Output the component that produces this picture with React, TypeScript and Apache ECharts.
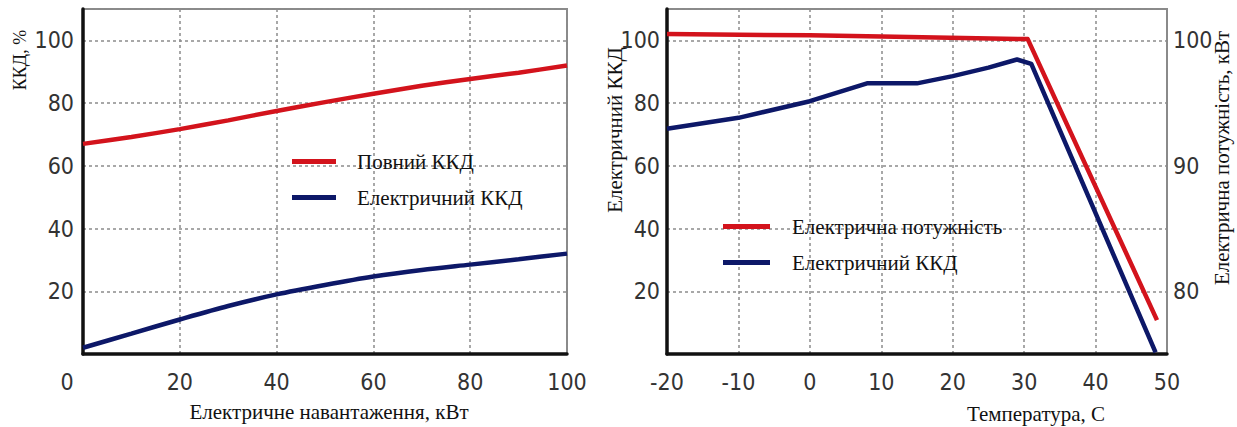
import React, { useEffect, useRef } from "react";
import * as echarts from "echarts";

// Left chart: efficiency vs electrical load
const loadX = [0, 10, 20, 30, 40, 50, 60, 70, 80, 90, 100];
const totalEff = [67, 69.2, 71.7, 74.5, 77.5, 80.3, 83, 85.5, 87.7, 89.7, 92];
const elecEffLoad = [2, 6.5, 11, 15.3, 19, 22, 24.7, 26.8, 28.5, 30.2, 32];

// Right chart: vs temperature
const powerT = [-20, 0, 10, 30.5, 48.6];
const powerKW = [100.5, 100.4, 100.3, 100.1, 77.7];
const effT = [-20, -10, 0, 8, 15, 20, 25, 29, 31, 48.4];
const effTemp = [71.8, 75.3, 80.6, 86.3, 86.3, 88.6, 91.3, 93.9, 92.5, 0.5];

const leftYTicks = [20, 40, 60, 80, 100];
const rightYTicks = [80, 90, 100];

const RED = "#d3131c";
const BLUE = "#0d1868";
const TICK_FONT = "'Liberation Sans Narrow', 'DejaVu Sans Condensed', 'Roboto', sans-serif";
const SERIF = "'Liberation Serif', 'DejaVu Serif', serif";

export default function App() {
  const ref = useRef<HTMLDivElement>(null);
  useEffect(() => {
    document.body.style.margin = "0";
    if (!ref.current) return;
    const chart = echarts.init(ref.current, null, { renderer: "svg" });
    const tickLabel = {
      fontFamily: TICK_FONT,
      fontSize: 23,
      fontWeight: 500,
      color: "#333333",
    };
    const split = {
      show: true,
      lineStyle: { color: "#8c8c8c", width: 1.5, type: [3, 3] as any },
    };
    const blackAxis = { show: true, onZero: false, lineStyle: { color: "#111", width: 3.5 } };
    const zip = (xs: number[], ys: number[]) => xs.map((x, i) => [x, ys[i]]);

    chart.setOption({
      animation: false,
      backgroundColor: "#ffffff",
      grid: [
        { left: 83, top: 9, width: 484, height: 345, show: true, borderColor: "#8a8a8a", borderWidth: 2, backgroundColor: "transparent" },
        { left: 667, top: 9, width: 500, height: 345, show: true, borderColor: "#8a8a8a", borderWidth: 2, backgroundColor: "transparent" },
      ],
      xAxis: [
        {
          type: "value", gridIndex: 0, min: 0, max: 100, interval: 20,
          axisLine: blackAxis, axisTick: { show: false }, splitLine: split,
          axisLabel: {
            ...tickLabel, margin: 16,
            formatter: (v: number) => (v === 0 ? "{z|0}" : String(v)),
            rich: { z: { ...tickLabel, padding: [0, 32, 0, 0] } },
          },
        },
        {
          type: "value", gridIndex: 1, min: -20, max: 50, interval: 10,
          axisLine: blackAxis, axisTick: { show: false }, splitLine: split,
          axisLabel: { ...tickLabel, margin: 16 },
        },
      ],
      yAxis: [
        {
          type: "value", gridIndex: 0, min: 0, max: 110, interval: 20,
          axisLine: blackAxis, axisTick: { show: false }, splitLine: split,
          axisLabel: {
            ...tickLabel, margin: 9,
            formatter: (v: number) => (leftYTicks.includes(v) ? String(v) : ""),
          },
        },
        {
          type: "value", gridIndex: 1, min: 0, max: 110, interval: 20,
          axisLine: blackAxis, axisTick: { show: false }, splitLine: split,
          axisLabel: {
            ...tickLabel, margin: 7,
            formatter: (v: number) => (leftYTicks.includes(v) ? String(v) : ""),
          },
        },
        {
          type: "value", gridIndex: 1, position: "right", min: 75, max: 102.5, interval: 5,
          axisLine: { show: true, onZero: false, lineStyle: { color: "#8a8a8a", width: 2 } },
          axisTick: { show: false }, splitLine: { show: false },
          axisLabel: {
            ...tickLabel, margin: 6,
            formatter: (v: number) => (rightYTicks.includes(v) ? String(v) : ""),
          },
        },
      ],
      legend: [
        {
          left: 287, top: 146, orient: "vertical", itemGap: 15,
          itemWidth: 44, itemHeight: 5, icon: "rect",
          data: ["Повний ККД", "Електричний ККД"],
          textStyle: { fontFamily: SERIF, fontSize: 21, color: "#111", padding: [0, 0, 0, 16] },
          selectedMode: false,
        },
        {
          left: 718, top: 211, orient: "vertical", itemGap: 15,
          itemWidth: 47, itemHeight: 5, icon: "rect",
          data: ["Електрична потужність", "Електричний ККД"],
          textStyle: { fontFamily: SERIF, fontSize: 21, color: "#111", padding: [0, 0, 0, 17] },
          selectedMode: false,
        },
      ],
      series: [
        {
          name: "Повний ККД", type: "line", xAxisIndex: 0, yAxisIndex: 0,
          data: zip(loadX, totalEff), smooth: 0.3, showSymbol: false,
          lineStyle: { color: RED, width: 4.5 }, itemStyle: { color: RED },
        },
        {
          name: "Електричний ККД", type: "line", xAxisIndex: 0, yAxisIndex: 0,
          data: zip(loadX, elecEffLoad), smooth: 0.3, showSymbol: false,
          lineStyle: { color: BLUE, width: 4.5 }, itemStyle: { color: BLUE },
        },
        {
          name: "Електричний ККД", type: "line", xAxisIndex: 1, yAxisIndex: 1,
          data: zip(effT, effTemp), showSymbol: false,
          lineStyle: { color: BLUE, width: 4.5, join: "round" }, itemStyle: { color: BLUE },
        },
        {
          name: "Електрична потужність", type: "line", xAxisIndex: 1, yAxisIndex: 2,
          data: zip(powerT, powerKW), showSymbol: false,
          lineStyle: { color: RED, width: 4.5, join: "round" }, itemStyle: { color: RED },
        },
      ],
      graphic: [
        {
          type: "text", x: 20, y: 60, rotation: Math.PI / 2,
          style: { text: "ККД, %", font: `18px ${SERIF}`, fill: "#111", align: "center", verticalAlign: "middle" },
        },
        {
          type: "text", x: 329, y: 412,
          style: { text: "Електричне навантаження, кВт", font: `21px ${SERIF}`, fill: "#111", align: "center", verticalAlign: "middle" },
        },
        {
          type: "text", x: 615, y: 130, rotation: Math.PI / 2,
          style: { text: "Електричний ККД", font: `21px ${SERIF}`, fill: "#111", align: "center", verticalAlign: "middle" },
        },
        {
          type: "text", x: 1036, y: 414,
          style: { text: "Температура, С", font: `21px ${SERIF}`, fill: "#111", align: "center", verticalAlign: "middle" },
        },
        {
          type: "text", x: 1222, y: 158, rotation: Math.PI / 2,
          style: { text: "Електрична потужність, кВт", font: `21px ${SERIF}`, fill: "#111", align: "center", verticalAlign: "middle" },
        },
      ],
    });
    return () => chart.dispose();
  }, []);
  return <div ref={ref} style={{ width: 1237, height: 427 }} />;
}
